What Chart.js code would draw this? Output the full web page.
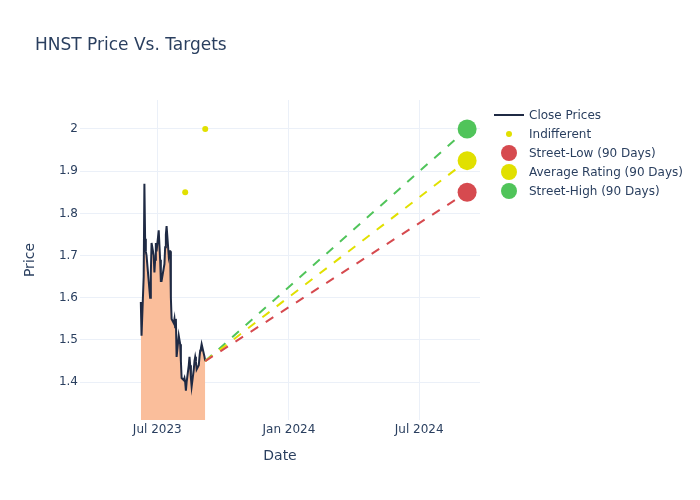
<!DOCTYPE html>
<html>
<head>
<meta charset="utf-8">
<script src="https://cdn.jsdelivr.net/npm/chart.js@4/dist/chart.umd.min.js"></script>
<style>
  html, body { margin: 0; padding: 0; background: #fff; }
  #wrap { position: relative; width: 700px; height: 500px; font-family: "DejaVu Sans", sans-serif; color: #2a3f5f; }
  #title { position: absolute; left: 35px; top: 33px; font-size: 17px; line-height: 22px; white-space: nowrap; }
  .lg { position: absolute; left: 529px; font-size: 12px; line-height: 14px; white-space: nowrap; }
  .sym { position: absolute; border-radius: 50%; }
</style>
</head>
<body>
<div id="wrap">
  <canvas id="c" width="700" height="500"></canvas>
  <div id="title">HNST Price Vs. Targets</div>
  <div id="legend"></div>
</div>
<script>
// ---- data ----
const closeDates = [
  '2023-06-08','2023-06-09','2023-06-12','2023-06-13','2023-06-14','2023-06-15','2023-06-16',
  '2023-06-20','2023-06-21','2023-06-22','2023-06-23','2023-06-26','2023-06-27','2023-06-28',
  '2023-06-29','2023-06-30','2023-07-03','2023-07-05','2023-07-06','2023-07-07','2023-07-10',
  '2023-07-11','2023-07-12','2023-07-13','2023-07-14','2023-07-17','2023-07-18','2023-07-19',
  '2023-07-20','2023-07-21','2023-07-24','2023-07-25','2023-07-26','2023-07-27','2023-07-28',
  '2023-07-31','2023-08-01','2023-08-02','2023-08-03','2023-08-04','2023-08-07','2023-08-08',
  '2023-08-09','2023-08-10','2023-08-11','2023-08-14','2023-08-15','2023-08-16','2023-08-17',
  '2023-08-18','2023-08-21','2023-08-22','2023-08-23','2023-08-24','2023-08-25','2023-08-28',
  '2023-08-29','2023-08-30','2023-08-31','2023-09-01','2023-09-05','2023-09-06'
];
const closePrices = [
  1.59, 1.51, 1.65, 1.87, 1.74, 1.71, 1.70,
  1.62, 1.60, 1.66, 1.73, 1.70, 1.66, 1.69,
  1.73, 1.71, 1.76, 1.69, 1.64, 1.64, 1.67,
  1.68, 1.72, 1.75, 1.77, 1.70, 1.71, 1.71,
  1.60, 1.55, 1.54, 1.55, 1.53, 1.55, 1.46,
  1.51, 1.50, 1.49, 1.45, 1.41, 1.405, 1.41,
  1.40, 1.38, 1.40, 1.44, 1.46, 1.44, 1.41,
  1.39, 1.43, 1.45, 1.46, 1.45, 1.43, 1.44,
  1.46, 1.475, 1.48, 1.49, 1.46, 1.45
];
const indifferentDates = ['2023-08-09', '2023-09-06'];
const indifferentValues = [1.85, 2.0];
const targetDate = '2024-09-06';
const targetNames = ['Street-Low (90 Days)', 'Average Rating (90 Days)', 'Street-High (90 Days)'];
const targetValues = [1.85, 1.925, 2.0];
const yTickValues = [1.4, 1.5, 1.6, 1.7, 1.8, 1.9, 2.0];
const xTickDates = ['2023-07-01', '2024-01-01', '2024-07-01'];
const xTickLabels = ['Jul 2023', 'Jan 2024', 'Jul 2024'];

// ---- styles ----
const TEXT = '#2a3f5f';
const GRID = '#ebf0f8';
const LINE = '#1f2a44';
const FILL = 'rgb(250,190,155)';
const targetColors = ['#d64a4f', '#e1e000', '#50c45a'];
const FONT = '"DejaVu Sans", sans-serif';

const t = s => Date.parse(s);
const lastX = t(closeDates[closeDates.length - 1]);
const lastY = closePrices[closePrices.length - 1];

const datasets = [];
datasets.push({
  label: 'Close Prices',
  data: closeDates.map((d, i) => ({x: t(d), y: closePrices[i]})),
  borderColor: LINE, backgroundColor: FILL, borderWidth: 2,
  fill: 'start', pointRadius: 0, tension: 0, order: 10
});
datasets.push({
  label: 'Indifferent',
  data: indifferentDates.map((d, i) => ({x: t(d), y: indifferentValues[i]})),
  showLine: false, pointRadius: 3, pointBackgroundColor: '#e1e000',
  pointBorderWidth: 0, backgroundColor: '#e1e000', order: 5
});
targetValues.forEach((v, i) => {
  datasets.push({
    label: targetNames[i] + ' line',
    data: [{x: lastX, y: lastY}, {x: t(targetDate), y: v}],
    borderColor: targetColors[i], borderWidth: 2, borderDash: [9, 9],
    pointRadius: 0, fill: false, order: 4
  });
});
targetValues.forEach((v, i) => {
  datasets.push({
    label: targetNames[i],
    data: [{x: t(targetDate), y: v}],
    showLine: false, pointRadius: 9.5, pointBackgroundColor: targetColors[i],
    pointBorderWidth: 0, backgroundColor: targetColors[i], order: 1
  });
});

new Chart(document.getElementById('c'), {
  type: 'line',
  data: { datasets },
  options: {
    responsive: false, animation: false, devicePixelRatio: 1,
    layout: { padding: { top: 100, right: 220, bottom: 0, left: 0 } },
    plugins: { legend: { display: false }, title: { display: false }, tooltip: { enabled: false } },
    scales: {
      x: {
        type: 'linear',
        min: t('2023-03-15'), max: t('2024-09-24'),
        afterBuildTicks: s => { s.ticks = xTickDates.map(d => ({value: t(d)})); },
        afterFit: s => { s.height = 80; },
        ticks: {
          color: TEXT, font: { family: FONT, size: 12 }, padding: 3, maxRotation: 0,
          callback: (v) => { const k = xTickDates.findIndex(d => t(d) === v); return k >= 0 ? xTickLabels[k] : ''; }
        },
        grid: { color: GRID, drawTicks: false, lineWidth: 1 },
        border: { display: false },
        title: { display: true, text: 'Date', color: TEXT, font: { family: FONT, size: 14 }, padding: { bottom: 35.6, top: 0 } }
      },
      y: {
        min: 1.3104, max: 2.0687,
        afterBuildTicks: s => { s.ticks = yTickValues.map(v => ({value: v})); },
        afterFit: s => { s.width = 80; },
        ticks: {
          color: TEXT, font: { family: FONT, size: 12 }, padding: 2,
          callback: v => String(+(+v).toFixed(1))
        },
        grid: { color: GRID, drawTicks: false, lineWidth: 1 },
        border: { display: false },
        title: { display: true, text: 'Price', color: TEXT, font: { family: FONT, size: 14 }, padding: { top: 21.6, bottom: 0 } }
      }
    }
  }
});

// ---- legend (HTML) ----
const legend = document.getElementById('legend');
const rows = [
  { name: 'Close Prices', type: 'line', color: LINE },
  { name: 'Indifferent', type: 'dot', color: '#e1e000', size: 6 },
  { name: targetNames[0], type: 'dot', color: targetColors[0], size: 16 },
  { name: targetNames[1], type: 'dot', color: targetColors[1], size: 16 },
  { name: targetNames[2], type: 'dot', color: targetColors[2], size: 16 }
];
rows.forEach((r, i) => {
  const cy = 114.5 + i * 19;
  const sym = document.createElement('div');
  if (r.type === 'line') {
    sym.style.cssText = `position:absolute;left:494px;top:${cy - 1}px;width:30px;height:2px;background:${r.color};`;
  } else {
    sym.className = 'sym';
    sym.style.cssText += `left:${509 - r.size / 2}px;top:${cy - r.size / 2}px;width:${r.size}px;height:${r.size}px;background:${r.color};`;
  }
  legend.appendChild(sym);
  const lab = document.createElement('div');
  lab.className = 'lg';
  lab.style.top = (cy - 7) + 'px';
  lab.textContent = r.name;
  legend.appendChild(lab);
});
</script>
</body>
</html>
